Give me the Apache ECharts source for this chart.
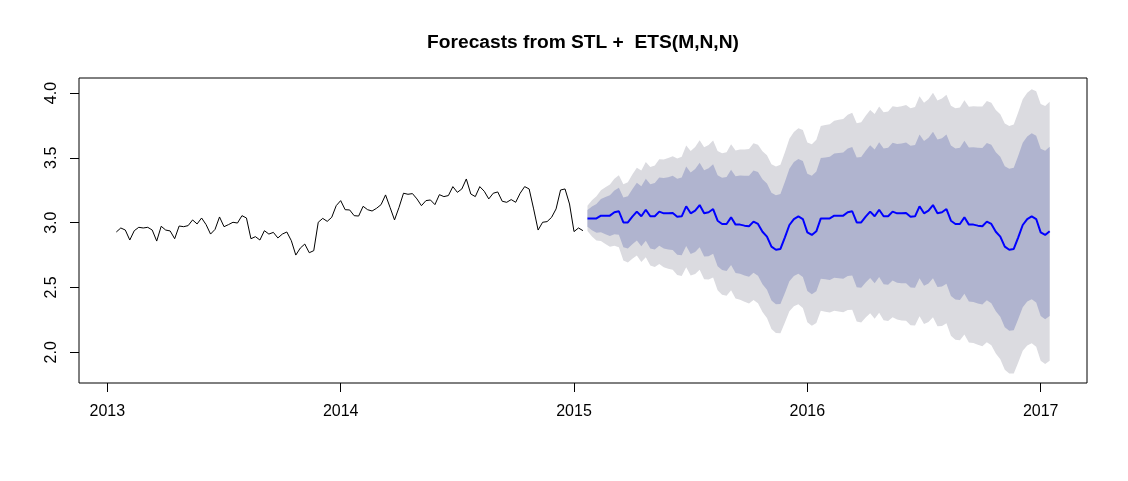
<!DOCTYPE html>
<html>
<head>
<meta charset="utf-8">
<script src="https://cdn.jsdelivr.net/npm/echarts@6/dist/echarts.min.js"></script>
<style>html,body{margin:0;padding:0;background:#fff}#c{width:1128px;height:481px}</style>
</head>
<body>
<div id="c"></div>
<script>
// ---- data ----
const histStart = 2013 + 2 / 52;   // first weekly observation
const fcStart = 2015 + 3 / 52;     // first forecast week
const frequency = 52;
const histValues = [2.928,2.959,2.943,2.866,2.938,2.964,2.959,2.964,2.943,2.858,
2.972,2.943,2.936,2.876,2.974,2.969,2.977,3.021,2.990,3.036,
2.985,2.912,2.948,3.044,2.969,2.985,3.003,2.997,3.054,3.036,
2.876,2.892,2.866,2.938,2.912,2.925,2.882,2.912,2.928,2.861,
2.750,2.804,2.835,2.768,2.784,3.003,3.033,3.010,3.041,3.131,
3.170,3.100,3.098,3.054,3.051,3.126,3.100,3.090,3.111,3.139,
3.214,3.118,3.021,3.118,3.227,3.219,3.224,3.183,3.131,3.170,
3.175,3.139,3.216,3.201,3.209,3.278,3.234,3.260,3.337,3.221,
3.201,3.278,3.242,3.183,3.227,3.237,3.165,3.157,3.178,3.157,
3.227,3.278,3.260,3.106,2.943,3.003,3.008,3.041,3.106,3.252,
3.260,3.144,2.931,2.959,2.938];
const forecastMean = [3.033,3.033,3.033,3.054,3.054,3.054,3.080,3.088,3.002,3.002,
3.046,3.085,3.049,3.100,3.049,3.049,3.085,3.072,3.072,3.075,
3.046,3.049,3.126,3.072,3.093,3.136,3.072,3.080,3.105,3.015,
2.990,2.990,3.041,2.985,2.985,2.977,2.972,3.008,2.990,2.930,
2.892,2.815,2.791,2.797,2.887,2.982,3.028,3.049,3.028,2.925,
2.905,2.933,
3.033,3.033,3.033,3.054,3.054,3.054,3.080,3.088,3.002,3.002,
3.046,3.085,3.049,3.100,3.049,3.049,3.085,3.072,3.072,3.075,
3.046,3.049,3.126,3.072,3.093,3.136,3.072,3.080,3.105,3.015,
2.990,2.990,3.041,2.985,2.985,2.977,2.972,3.008,2.990,2.930,
2.892,2.815,2.791,2.797,2.887,2.982,3.028,3.049,3.028,2.925,
2.905,2.933];
// half widths of the 80% and 95% prediction intervals
const halfWidth80 = [0.064,0.091,0.111,0.128,0.143,0.157,0.169,0.181,0.192,0.202,
0.212,0.222,0.231,0.239,0.248,0.256,0.264,0.272,0.279,0.286,
0.293,0.300,0.307,0.314,0.320,0.326,0.333,0.339,0.345,0.351,
0.356,0.362,0.368,0.373,0.379,0.384,0.389,0.395,0.400,0.405,
0.410,0.415,0.420,0.425,0.429,0.434,0.439,0.443,0.448,0.453,
0.457,0.462,0.466,0.470,0.475,0.479,0.483,0.487,0.492,0.496,
0.500,0.504,0.508,0.512,0.516,0.520,0.524,0.528,0.532,0.535,
0.539,0.543,0.547,0.551,0.554,0.558,0.562,0.565,0.569,0.572,
0.576,0.580,0.583,0.587,0.590,0.594,0.597,0.600,0.604,0.607,
0.611,0.614,0.617,0.621,0.624,0.627,0.630,0.634,0.637,0.640,
0.643,0.646,0.650,0.653];
const halfWidth95 = [0.098,0.139,0.170,0.196,0.219,0.240,0.259,0.277,0.294,0.310,
0.325,0.339,0.353,0.367,0.380,0.392,0.404,0.416,0.427,0.438,
0.449,0.460,0.470,0.480,0.490,0.500,0.509,0.519,0.528,0.537,
0.546,0.554,0.563,0.571,0.580,0.588,0.596,0.604,0.612,0.620,
0.628,0.635,0.643,0.650,0.657,0.665,0.672,0.679,0.686,0.693,
0.700,0.707,0.713,0.720,0.727,0.733,0.740,0.746,0.753,0.759,
0.765,0.772,0.778,0.784,0.790,0.796,0.802,0.808,0.814,0.820,
0.826,0.832,0.837,0.843,0.849,0.854,0.860,0.866,0.871,0.877,
0.882,0.887,0.893,0.898,0.904,0.909,0.914,0.919,0.925,0.930,
0.935,0.940,0.945,0.950,0.955,0.960,0.965,0.970,0.975,0.980,
0.985,0.990,0.995,0.999];
const xTicks = [2013, 2014, 2015, 2016, 2017];
const yTicks = [2.0, 2.5, 3.0, 3.5, 4.0];
const titleText = 'Forecasts from STL +  ETS(M,N,N)';

// ---- build series data ----
const histData = histValues.map((v, i) => [histStart + i / frequency, v]);
const fcT = forecastMean.map((v, j) => fcStart + j / frequency);
const meanData = forecastMean.map((v, j) => [fcT[j], v]);
const band95 = forecastMean.map((v, j) => [fcT[j], v - halfWidth95[j], v + halfWidth95[j]]);
const band80 = forecastMean.map((v, j) => [fcT[j], v - halfWidth80[j], v + halfWidth80[j]]);

function bandSeries(rows, color) {
  return {
    type: 'custom', coordinateSystem: 'cartesian2d', silent: true, clip: true,
    data: rows, encode: {x: 0, y: [1, 2]},
    renderItem: function (params, api) {
      if (params.dataIndex !== 0) return null;
      const upper = [], lower = [];
      for (let k = 0; k < rows.length; k++) {
        upper.push(api.coord([rows[k][0], rows[k][2]]));
        lower.push(api.coord([rows[k][0], rows[k][1]]));
      }
      return {type: 'polygon', shape: {points: upper.concat(lower.reverse())}, style: {fill: color, stroke: null}};
    }
  };
}

const FONT = '"Liberation Sans", Arial, Helvetica, sans-serif';
const chart = echarts.init(document.getElementById('c'), null, {renderer: 'canvas'});
chart.setOption({
  animation: false,
  backgroundColor: '#ffffff',
  graphic: [{
    type: 'text', x: 583, y: 43,
    style: {text: titleText, font: 'bold 19.2px ' + FONT, fill: '#000', textAlign: 'center', textVerticalAlign: 'middle'}
  }],
  grid: {left: 79, right: 41, top: 78, bottom: 98, show: true, borderColor: '#000', borderWidth: 1, backgroundColor: 'transparent'},
  xAxis: {
    type: 'value', min: 2012.8785, max: 2017.1985,
    axisLine: {show: false},
    splitLine: {show: false},
    axisTick: {show: true, length: 9, customValues: xTicks, lineStyle: {color: '#000', width: 1}},
    axisLabel: {customValues: xTicks, fontSize: 16, color: '#000', fontFamily: FONT, margin: 21, formatter: v => String(v)}
  },
  yAxis: {
    type: 'value', min: 1.763, max: 4.116,
    axisLine: {show: false},
    splitLine: {show: false},
    axisTick: {show: true, length: 9, customValues: yTicks, lineStyle: {color: '#000', width: 1}},
    axisLabel: {customValues: yTicks, fontSize: 16, color: '#000', fontFamily: FONT, rotate: 90, margin: 19, formatter: v => v.toFixed(1)}
  },
  series: [
    bandSeries(band95, '#DBDBE0'),
    bandSeries(band80, '#B0B4CF'),
    {type: 'line', data: histData, symbol: 'none', silent: true, lineStyle: {color: '#000', width: 1}},
    {type: 'line', data: meanData, symbol: 'none', silent: true, lineStyle: {color: '#0000FF', width: 2}}
  ]
});
</script>
</body>
</html>
